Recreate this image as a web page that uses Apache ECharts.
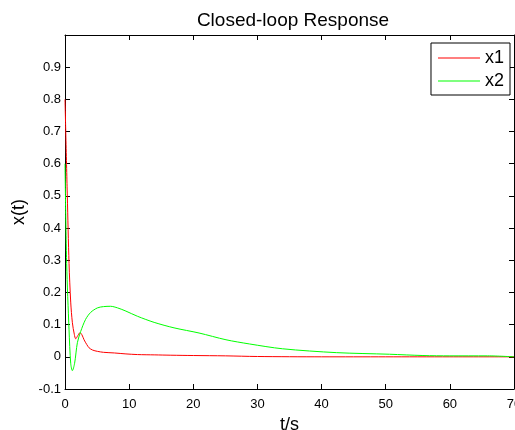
<!DOCTYPE html>
<html>
<head>
<meta charset="utf-8">
<script src="https://cdn.jsdelivr.net/npm/echarts@6/dist/echarts.min.js"></script>
<style>
  html, body { margin: 0; padding: 0; background: #fff; }
  #chart { width: 515px; height: 430px; }
</style>
</head>
<body>
<div id="chart"></div>
<script>
// time samples (s)
const tX1 = [0, 0.36, 0.63, 0.89, 1.15, 1.45, 1.67, 2.0, 2.34, 2.65, 2.97, 3.4, 3.75, 4.3, 5.05, 6, 7.7, 9.5, 11.3, 14, 16.5, 20, 25, 30, 40, 50, 60, 70]
const x1 = [0.8, 0.5, 0.29, 0.17, 0.106, 0.07, 0.056, 0.066, 0.075, 0.068, 0.053, 0.038, 0.028, 0.021, 0.017, 0.014, 0.012, 0.009, 0.007, 0.006, 0.005, 0.004, 0.003, 0.001, 0.0, 0.0, 0.0, 0.0]

const tX2 = [0, 0.26, 0.63, 0.89, 1.15, 1.5, 1.93, 2.45, 3.2, 4.0, 5.05, 6, 7.1, 8.2, 9.5, 11.3, 13.9, 17, 20.9, 25.1, 28.75, 33.9, 42.3, 50.6, 55.8, 60, 65.9, 70]
const x2 = [0.6, 0.29, 0.084, -0.02, -0.043, -0.02, 0.044, 0.079, 0.116, 0.138, 0.152, 0.156, 0.157, 0.152, 0.142, 0.126, 0.107, 0.09, 0.074, 0.053, 0.04, 0.025, 0.013, 0.008, 0.004, 0.003, 0.003, 0.0]

const seriesNames = ['x1', 'x2']
const xTicks = { min: 0, max: 70, interval: 10 }
const yTicks = { min: -0.1, max: 1, interval: 0.1 }

const pairs = (t, v) => t.map((ti, i) => [ti, v[i]])

const font = 'Liberation Sans, Arial, sans-serif'
const chart = echarts.init(document.getElementById('chart'))

const axisCommon = {
  axisLine: { show: true, onZero: false, lineStyle: { color: '#000', width: 1 } },
  axisTick: { show: true, inside: true, length: 5, lineStyle: { color: '#000' } },
  splitLine: { show: false }
}

chart.setOption({
  animation: false,
  backgroundColor: '#fff',
  textStyle: { fontFamily: font },
  title: {
    text: 'Closed-loop Response',
    left: 288,
    textAlign: 'center',
    top: 6,
    textStyle: { fontSize: 19, fontWeight: 'normal', color: '#000', fontFamily: font }
  },
  legend: {
    data: seriesNames,
    orient: 'vertical',
    right: 5,
    top: 43,
    padding: [6, 6, 5, 7],
    itemGap: 5,
    itemWidth: 42,
    itemHeight: 1,
    icon: 'rect',
    borderColor: '#000',
    borderWidth: 1,
    backgroundColor: '#fff',
    borderRadius: 0,
    shadowBlur: 0,
    shadowColor: 'transparent',
    textStyle: { fontSize: 18, color: '#000', fontFamily: font, lineHeight: 18 }
  },
  grid: { left: 65, right: 1, top: 35, bottom: 41, containLabel: false, outerBoundsMode: 'none' },
  xAxis: [
    Object.assign({
      type: 'value', position: 'bottom',
      min: xTicks.min, max: xTicks.max, interval: xTicks.interval,
      name: 't/s', nameLocation: 'middle', nameGap: 22,
      nameTextStyle: { fontSize: 18, color: '#000', fontFamily: font },
      axisLabel: { fontSize: 13, color: '#000', margin: 9, fontFamily: font }
    }, axisCommon),
    Object.assign({
      type: 'value', position: 'top',
      min: xTicks.min, max: xTicks.max, interval: xTicks.interval,
      axisLabel: { show: false }
    }, axisCommon)
  ],
  yAxis: [
    Object.assign({
      type: 'value', position: 'left',
      min: yTicks.min, max: yTicks.max, interval: yTicks.interval,
      name: 'x(t)', nameLocation: 'middle', nameGap: 22, nameRotate: 90,
      nameTextStyle: { fontSize: 18, color: '#000', fontFamily: font },
      axisLabel: { fontSize: 13, color: '#000', margin: 4, showMaxLabel: false, fontFamily: font,
        formatter: v => String(Math.round(v * 10) / 10) }
    }, axisCommon),
    Object.assign({
      type: 'value', position: 'right',
      min: yTicks.min, max: yTicks.max, interval: yTicks.interval,
      axisLabel: { show: false }
    }, axisCommon)
  ],
  series: [
    {
      name: seriesNames[0], type: 'line', data: pairs(tX1, x1),
      symbol: 'none', smooth: 0.3,
      lineStyle: { color: '#ff0000', width: 1 }, itemStyle: { color: '#ff0000' }
    },
    {
      name: seriesNames[1], type: 'line', data: pairs(tX2, x2),
      symbol: 'none', smooth: 0.3,
      lineStyle: { color: '#00ff00', width: 1 }, itemStyle: { color: '#00ff00' }
    }
  ]
})
</script>
</body>
</html>
